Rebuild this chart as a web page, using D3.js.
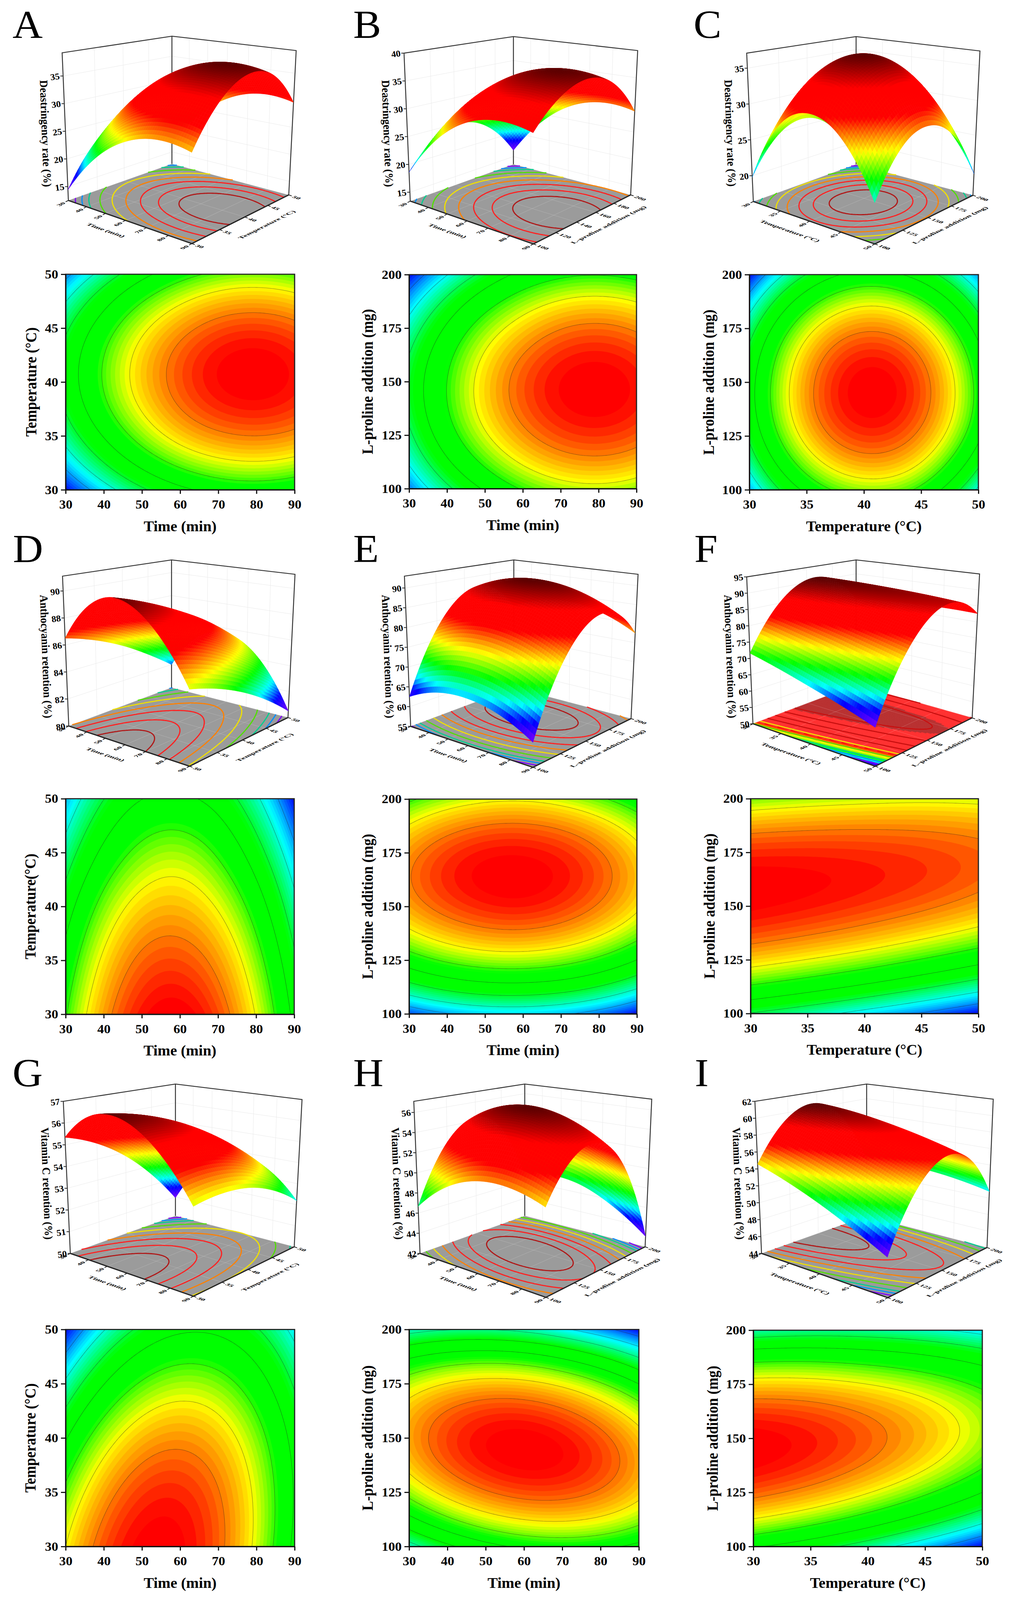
<!doctype html>
<html lang="en">

<head>
  <meta charset="utf-8">
  <title>Response surfaces</title>
  <style>
    html, body { margin: 0; padding: 0; background: #fff; overflow: hidden; }
    text { font-family: "Liberation Serif", serif; fill: #000; }
    .tick2d text { font-size: 34px; font-weight: bold; }
    .tick2d line, .tick2d path { stroke: #111; stroke-width: 3; }
    .title2d { font-size: 39px; font-weight: bold; }
    .letter { font-size: 107px; }
    .ztick { font-size: 24px; font-weight: bold; }
    .ztitle { font-size: 29px; font-weight: bold; }
    .floortick { font-size: 19px; font-weight: bold; }
    .floortitle { font-size: 21px; font-weight: bold; }
  </style>
</head>

<body>
  <div id="chart"></div>
  <script src="https://d3js.org/d3.v7.min.js"></script>
  <script>
    // factor levels the response values were read at
    const timeGrid = [30, 45, 60, 75, 90];
    const tempGrid = [30, 35, 40, 45, 50];
    const prolineGrid = [100, 125, 150, 175, 200];

    // axis ticks
    const timeTicks = [30, 40, 50, 60, 70, 80, 90];
    const tempTicks = [30, 35, 40, 45, 50];
    const prolineTicks = [100, 125, 150, 175, 200];
    const prolineTicksB = [100, 120, 140, 160, 180, 200];
    const zTicksA = [15, 20, 25, 30, 35];
    const zTicksB = [15, 20, 25, 30, 35, 40];
    const zTicksC = [20, 25, 30, 35];
    const zTicksD = [80, 82, 84, 86, 88, 90];
    const zTicksE = [55, 60, 65, 70, 75, 80, 85, 90];
    const zTicksF = [50, 55, 60, 65, 70, 75, 80, 85, 90, 95];
    const zTicksG = [50, 51, 52, 53, 54, 55, 56, 57];
    const zTicksH = [42, 44, 46, 48, 50, 52, 54, 56];
    const zTicksI = [44, 46, 48, 50, 52, 54, 56, 58, 60, 62];

    // responses, one row per y level (low to high), one column per x level (low to high)
    const zA = [
      [14.4, 21.3, 25.7, 27.7, 27.1],
      [21.7, 28.6, 33.1, 35.0, 34.5],
      [24.6, 31.5, 35.9, 37.9, 37.3],
      [23.0, 29.9, 34.3, 36.3, 35.7],
      [16.9, 23.8, 28.2, 30.2, 29.6]
    ];
    const zB = [
      [18.6, 25.4, 29.8, 31.7, 31.1],
      [23.5, 30.4, 34.7, 36.6, 36.0],
      [24.8, 31.6, 36.0, 37.9, 37.3],
      [22.3, 29.2, 33.5, 35.5, 34.9],
      [16.3, 23.1, 27.5, 29.4, 28.8]
    ];
    const zC = [
      [19.8, 27.6, 30.6, 28.9, 21.5],
      [24.9, 32.7, 35.7, 34.0, 27.5],
      [26.0, 33.8, 36.9, 35.2, 28.7],
      [23.4, 31.2, 34.2, 32.5, 26.0],
      [16.8, 24.6, 27.7, 25.9, 19.5]
    ];
    const zD = [
      [86.5, 89.4, 90.2, 88.7, 85.1],
      [85.8, 88.7, 89.4, 88.0, 84.4],
      [84.8, 87.7, 88.4, 87.0, 83.4],
      [83.5, 86.4, 87.2, 85.7, 82.1],
      [82.0, 84.9, 85.6, 84.2, 80.5]
    ];
    const zE = [
      [62.5, 65.6, 66.3, 64.7, 60.6],
      [78.0, 81.1, 81.8, 80.2, 76.1],
      [86.0, 89.0, 89.8, 88.1, 84.1],
      [86.4, 89.5, 90.2, 88.6, 84.5],
      [79.3, 82.4, 83.2, 81.5, 77.5]
    ];
    const zF = [
      [71.6, 69.3, 66.6, 63.7, 60.4],
      [84.9, 83.4, 81.6, 79.4, 76.9],
      [90.9, 90.2, 89.2, 87.9, 86.2],
      [89.6, 89.7, 89.5, 89.0, 88.1],
      [81.0, 81.9, 82.5, 82.8, 82.6]
    ];
    const zG = [
      [55.34, 56.58, 56.72, 55.76, 53.70],
      [54.75, 56.17, 56.49, 55.71, 53.82],
      [53.82, 55.42, 55.92, 55.32, 53.62],
      [52.55, 54.33, 55.01, 54.59, 53.06],
      [50.95, 52.91, 53.77, 53.53, 52.19]
    ];
    const zH = [
      [46.66, 49.24, 50.66, 50.91, 49.98],
      [52.38, 54.49, 55.45, 55.24, 53.84],
      [54.37, 56.01, 56.51, 55.83, 53.97],
      [52.63, 53.81, 53.84, 52.69, 50.37],
      [46.70, 47.30, 46.90, 45.40, 43.05]
    ];
    const zI = [
      [54.57, 53.49, 52.08, 50.32, 48.26],
      [59.39, 58.65, 57.56, 56.15, 54.40],
      [60.54, 60.14, 59.38, 58.29, 56.86],
      [58.01, 57.95, 57.50, 56.76, 55.67],
      [51.80, 52.07, 51.97, 51.56, 50.79]
    ];

    const deast = 'Deastringency rate (%)';
    const antho = 'Anthocyanin retention (%)';
    const vitc = 'Vitamin C retention (%)';
    const timeT = 'Time (min)', tempT = 'Temperature (\u00B0C)', proT = 'L-proline addition (mg)';

    // the panels: response, x/y domain and ticks, z axis range, contour spacing
    const panels = [
      { id: 'A', z: zA, xg: timeGrid, yg: tempGrid, xt: timeTicks, yt: tempTicks, zt: zTicksA, zd: [12.5, 39.2], peak: 38, step: 2.9, zTitle: deast, xTitle: timeT, yTitle: tempT },
      { id: 'B', z: zB, xg: timeGrid, yg: prolineGrid, xt: timeTicks, yt: prolineTicks, yt3: prolineTicksB, zt: zTicksB, zd: [13.4, 40], peak: 38, step: 2.8, zTitle: deast, xTitle: timeT, yTitle: proT },
      { id: 'C', z: zC, xg: tempGrid, yg: prolineGrid, xt: tempTicks, yt: prolineTicks, zt: zTicksC, zd: [16.4, 37.1], peak: 37, step: 2.5, zTitle: deast, xTitle: tempT, yTitle: proT },
      { id: 'D', z: zD, xg: timeGrid, yg: tempGrid, xt: timeTicks, yt: tempTicks, zt: zTicksD, zd: [80, 91.1], peak: 90.2, step: 1.2, zTitle: antho, xTitle: timeT, yTitle: 'Temperature(\u00B0C)' },
      { id: 'E', z: zE, xg: timeGrid, yg: prolineGrid, xt: timeTicks, yt: prolineTicks, zt: zTicksE, zd: [55, 93], peak: 91, step: 3.7, zTitle: antho, xTitle: timeT, yTitle: proT },
      { id: 'F', z: zF, xg: tempGrid, yg: prolineGrid, xt: tempTicks, yt: prolineTicks, zt: zTicksF, zd: [50, 95], peak: 91.3, step: 3.9, zTitle: antho, xTitle: tempT, yTitle: proT, filledFloor: true },
      { id: 'G', z: zG, xg: timeGrid, yg: tempGrid, xt: timeTicks, yt: tempTicks, zt: zTicksG, zd: [50, 57], peak: 56.8, step: 0.73, zTitle: vitc, xTitle: timeT, yTitle: tempT },
      { id: 'H', z: zH, xg: timeGrid, yg: prolineGrid, xt: timeTicks, yt: prolineTicks, zt: zTicksH, zd: [42, 57.1], peak: 56.6, step: 1.55, zTitle: vitc, xTitle: timeT, yTitle: proT },
      { id: 'I', z: zI, xg: tempGrid, yg: prolineGrid, xt: tempTicks, yt: prolineTicks, zt: zTicksI, zd: [44, 62], peak: 60.6, step: 1.55, zTitle: vitc, xTitle: tempT, yTitle: proT }
    ];

    // layout, in page pixels
    const letterPos = { A: [32, 103], B: [904, 103], C: [1775, 103], D: [33, 1523], E: [904, 1523], F: [1777, 1523], G: [32, 2943], H: [904, 2943], I: [1778, 2943] };
    const plotBox = {
      A: [168, 754, 743, 1327, 88], B: [1047, 1629, 744, 1324, 106], C: [1918, 2504, 744, 1327, 104],
      D: [168, 753, 2164, 2748, 90], E: [1047, 1630, 2165, 2747, 106], F: [1921, 2504, 2164, 2746, 105],
      G: [168, 754, 3602, 4190, 90], H: [1047, 1635, 3602, 4190, 106], I: [1928, 2514, 3604, 4190, 104]
    };
    const boxes = {
      A: { L: [175, 543], B: [440, 444], R: [739, 528], F: [491, 660], Lt: [159, 143], Bt: [440, 98], Rt: [758, 137], titleY: 362 },
      B: { L: [1050, 545], B: [1314, 445], R: [1614, 528], F: [1365, 661], Lt: [1034, 144], Bt: [1314, 99], Rt: [1632, 137], titleY: 362 },
      C: { L: [1928, 546], B: [2191, 445], R: [2490, 529], F: [2239, 661], Lt: [1911, 144], Bt: [2191, 99], Rt: [2508, 138], titleY: 361 },
      D: { L: [176, 1967], B: [439, 1863], R: [737, 1944], F: [485, 2076], Lt: [160, 1561], Bt: [439, 1517], Rt: [755, 1556], titleY: 1779 },
      E: { L: [1051, 1968], B: [1315, 1863], R: [1615, 1947], F: [1364, 2079], Lt: [1035, 1561], Bt: [1315, 1517], Rt: [1633, 1556], titleY: 1779 },
      F: { L: [1927, 1961], B: [2191, 1856], R: [2488, 1945], F: [2240, 2076], Lt: [1911, 1563], Bt: [2191, 1517], Rt: [2507, 1555], titleY: 1779 },
      G: { L: [180, 3396], B: [449, 3294], R: [753, 3378], F: [495, 3512], Lt: [162, 2984], Bt: [449, 2937], Rt: [773, 2979], titleY: 3207 },
      H: { L: [1075, 3396], B: [1343, 3294], R: [1651, 3378], F: [1397, 3515], Lt: [1059, 2984], Bt: [1343, 2937], Rt: [1668, 2978], titleY: 3207 },
      I: { L: [1949, 3396], B: [2218, 3295], R: [2526, 3380], F: [2272, 3516], Lt: [1932, 2984], Bt: [2218, 2937], Rt: [2542, 2978], titleY: 3207 }
    };

    // colours of the flat map and of the 3d surface
    const ramp2d = d3.scaleLinear()
      .domain([0, 0.22, 0.42, 0.6, 0.75, 0.87, 0.98])
      .range(['#0000ff', '#00ffff', '#00ff00', '#00ff00', '#ffff00', '#ff8000', '#ff0000'])
      .clamp(true);
    const ramp3d = d3.scaleLinear()
      .domain([0, 0.12, 0.22, 0.35, 0.5, 0.68])
      .range(['#8000ff', '#0000ff', '#00ffff', '#00ff00', '#ffff00', '#ff0000'])
      .clamp(true);
    const darkTop = d3.scaleLinear().domain([0.84, 1]).range(['#ff0000', '#5a0000']).clamp(true);

    const floorLevels = [0.09, 0.17, 0.25, 0.37, 0.49, 0.61, 0.72, 0.83, 0.92];
    const floorColors = ['#8000ff', '#0090ff', '#00d090', '#50e000', '#f0e000', '#ff8000', '#ff2020', '#ff2020', '#b01818'];

    const GRID = 121;   // samples per side for the contours
    const MESH = 60;    // cells per side for the 3d surface

    // the drawing is laid out at 2590x4335 and fills whatever window it gets
    const svg = d3.select('#chart').append('svg')
      .attr('viewBox', '0 0 2590 4335')
      .attr('preserveAspectRatio', 'none')
      .style('display', 'block')
      .style('width', '100vw').style('height', '100vh');

    // catmull-rom through the read values, ends continued so a parabola stays a parabola
    function spline(p, t) {
      const n = p.length - 1;
      const i = Math.min(Math.floor(t), n - 1), s = t - i;
      const at = k => k < 0 ? 3 * p[0] - 3 * p[1] + p[2] : k > n ? 3 * p[n] - 3 * p[n - 1] + p[n - 2] : p[k];
      const a = at(i - 1), b = at(i), c = at(i + 1), d = at(i + 2);
      return 0.5 * (2 * b + (c - a) * s + (2 * a - 5 * b + 4 * c - d) * s * s + (3 * b - a - 3 * c + d) * s * s * s);
    }

    function sampler(rows) {
      return (u, v) => spline(rows.map(r => spline(r, u * (r.length - 1))), v * (rows.length - 1));
    }

    function fineValues(surf) {
      const values = new Array(GRID * GRID);
      for (let j = 0; j < GRID; j++) {
        for (let i = 0; i < GRID; i++) values[j * GRID + i] = surf(i / (GRID - 1), j / (GRID - 1));
      }
      return values;
    }

    // contour rings as an open path: the stretches running along the grid border are left out
    function ringPath(multi, project) {
      const side = (p, q) => (p[0] <= 0.5 && q[0] <= 0.5) || (p[1] <= 0.5 && q[1] <= 0.5) ||
        (p[0] >= GRID - 0.5 && q[0] >= GRID - 0.5) || (p[1] >= GRID - 0.5 && q[1] >= GRID - 0.5);
      let d = '';
      multi.coordinates.forEach(poly => poly.forEach(ring => {
        let pen = false;
        for (let k = 1; k < ring.length; k++) {
          if (side(ring[k - 1], ring[k])) { pen = false; continue; }
          if (!pen) d += 'M' + project(ring[k - 1]).map(c => c.toFixed(1)).join(',');
          d += 'L' + project(ring[k]).map(c => c.toFixed(1)).join(',');
          pen = true;
        }
      }));
      return d;
    }

    function drawMap(p, values, range) {
      const [x0, x1, y0, y1, titleOff] = plotBox[p.id];
      const g = svg.append('g');
      const gx = d3.scaleLinear().domain([0.5, GRID - 0.5]).range([x0, x1]).clamp(true);
      const gy = d3.scaleLinear().domain([0.5, GRID - 0.5]).range([y1, y0]).clamp(true);
      const path = d3.geoPath(d3.geoTransform({ point(a, b) { this.stream.point(gx(a), gy(b)); } }));
      const tOf = z => (z - range[0]) / (range[1] - range[0]);

      // colour bands: six to each contour interval
      const band = p.step / 6;
      const bandLevels = d3.range(1, 90).map(k => p.peak - k * band).filter(v => v > range[0]).reverse();
      const bandFill = v => ramp2d(tOf(v + band / 2));
      g.append('rect').attr('x', x0).attr('y', y0).attr('width', x1 - x0).attr('height', y1 - y0).attr('fill', ramp2d(0));
      g.append('g').selectAll('path')
        .data(d3.contours().size([GRID, GRID]).thresholds(bandLevels)(values))
        .join('path').attr('d', path).attr('fill', d => bandFill(d.value));

      const lineLevels = d3.range(1, 14).map(k => p.peak - k * p.step).filter(v => v > range[0]);
      g.append('g').selectAll('path')
        .data(d3.contours().size([GRID, GRID]).thresholds(lineLevels)(values))
        .join('path')
        .attr('d', d => ringPath(d, c => [gx(c[0]), gy(c[1])]))
        .attr('fill', 'none').attr('stroke', '#222').attr('stroke-opacity', 0.5).attr('stroke-width', 1.1);

      // axes
      const sx = d3.scaleLinear().domain([p.xg[0], p.xg[4]]).range([x0, x1]);
      const sy = d3.scaleLinear().domain([p.yg[0], p.yg[4]]).range([y1, y0]);
      g.append('rect').attr('x', x0).attr('y', y0).attr('width', x1 - x0).attr('height', y1 - y0)
        .attr('fill', 'none').attr('stroke', '#222').attr('stroke-width', 3);
      g.append('g').attr('class', 'tick2d').attr('transform', `translate(0,${y1})`)
        .call(d3.axisBottom(sx).tickValues(p.xt).tickSize(11).tickPadding(16).tickSizeOuter(0));
      g.append('g').attr('class', 'tick2d').attr('transform', `translate(${x0},0)`)
        .call(d3.axisLeft(sy).tickValues(p.yt).tickSize(12).tickPadding(7).tickSizeOuter(0));
      g.selectAll('.tick2d text').attr('font-family', null);
      g.append('text').attr('class', 'title2d').attr('text-anchor', 'middle')
        .attr('x', (x0 + x1) / 2).attr('y', y1 + 112).text(p.xTitle);
      g.append('text').attr('class', 'title2d').attr('text-anchor', 'middle')
        .attr('transform', `translate(${x0 - titleOff + 13},${(y0 + y1) / 2}) rotate(-90)`).text(p.yTitle);
    }

    // unit square -> quad (L, F, R, B)
    function homography(q) {
      const [x0, y0] = q[0], [x1, y1] = q[1], [x2, y2] = q[2], [x3, y3] = q[3];
      const dx1 = x1 - x2, dx2 = x3 - x2, dx3 = x0 - x1 + x2 - x3;
      const dy1 = y1 - y2, dy2 = y3 - y2, dy3 = y0 - y1 + y2 - y3;
      const den = dx1 * dy2 - dx2 * dy1;
      const g = (dx3 * dy2 - dx2 * dy3) / den, h = (dx1 * dy3 - dx3 * dy1) / den;
      const a = x1 - x0 + g * x1, b = x3 - x0 + h * x3, d = y1 - y0 + g * y1, e = y3 - y0 + h * y3;
      return (u, v) => {
        const w = g * u + h * v + 1;
        return [(a * u + b * v + x0) / w, (d * u + e * v + y0) / w];
      };
    }

    const unit = (a, b) => {
      const dx = b[0] - a[0], dy = b[1] - a[1], n = Math.hypot(dx, dy);
      return [dx / n, dy / n];
    };
    const shift = (p, n, k) => [p[0] + n[0] * k, p[1] + n[1] * k];

    // text lying on the floor plane: baseline along b, letters growing along up
    const onFloor = (pos, b, up) => `matrix(${b[0]},${b[1]},${-up[0] * 0.72},${-up[1] * 0.72},${pos[0]},${pos[1]})`;

    function draw3d(p, surf, values, range) {
      const box = boxes[p.id];
      const { L, B, R, F, Lt, Bt, Rt } = box;
      const Ft = [Lt[0] + Rt[0] - Bt[0] + (F[0] - (L[0] + R[0] - B[0])) * 0.8,
                  Lt[1] + Rt[1] - Bt[1] + (F[1] - (L[1] + R[1] - B[1])) * 0.8];
      const floorH = homography([L, F, R, B]);
      const topH = homography([Lt, Ft, Rt, Bt]);
      const sx = d3.scaleLinear().domain([p.xg[0], p.xg[4]]).range([0, 1]);
      const sy = d3.scaleLinear().domain([p.yg[0], p.yg[4]]).range([0, 1]);
      const sz = d3.scaleLinear().domain(p.zd).range([0, 1]);
      const project = (u, v, w) => {
        const a = floorH(u, v), b = topH(u, v);
        return [a[0] + (b[0] - a[0]) * w, a[1] + (b[1] - a[1]) * w];
      };
      const line = d3.line();
      const tOf = z => (z - range[0]) / (range[1] - range[0]);
      const yt3 = p.yt3 || p.yt;
      const g = svg.append('g');

      // back walls: faint grid
      const wallGrid = g.append('g').attr('fill', 'none').attr('stroke', '#e9e9e9').attr('stroke-width', 1);
      p.zt.forEach(t => {
        const w = sz(t);
        wallGrid.append('path').attr('d', line([project(0, 0, w), project(0, 1, w), project(1, 1, w)]));
      });
      yt3.forEach(t => wallGrid.append('path').attr('d', line([project(0, sy(t), 0), project(0, sy(t), 1)])));
      p.xt.forEach(t => wallGrid.append('path').attr('d', line([project(sx(t), 1, 0), project(sx(t), 1, 1)])));

      // floor
      if (p.filledFloor) {
        const cells = [];
        const n = 70;
        for (let i = 0; i < n; i++) {
          for (let j = 0; j < n; j++) {
            const t = tOf(surf((i + 0.5) / n, (j + 0.5) / n));
            let c = ramp3d(t * 1.5);
            if (t * 1.5 >= 0.68) c = t > 0.9 ? '#b83030' : '#ff3030';
            cells.push({ c, pts: [floorH(i / n, j / n), floorH((i + 1) / n, j / n), floorH((i + 1) / n, (j + 1) / n), floorH(i / n, (j + 1) / n)] });
          }
        }
        g.append('g').selectAll('path').data(cells).join('path')
          .attr('d', d => line(d.pts) + 'Z').attr('fill', d => d.c).attr('stroke', d => d.c).attr('stroke-width', 0.8);
      } else {
        g.append('path').attr('d', line([L, F, R, B]) + 'Z').attr('fill', '#9b9b9b');
      }
      const floorGrid = g.append('g').attr('fill', 'none').attr('stroke', '#fff').attr('stroke-opacity', 0.18).attr('stroke-width', 1.2);
      p.xt.forEach(t => floorGrid.append('path').attr('d', line([floorH(sx(t), 0), floorH(sx(t), 1)])));
      yt3.forEach(t => floorGrid.append('path').attr('d', line([floorH(0, sy(t)), floorH(1, sy(t))])));

      // contours on the floor
      const levels = floorLevels.map(t => range[0] + t * (range[1] - range[0]));
      const gridToFloor = c => floorH(Math.min(1, Math.max(0, (c[0] - 0.5) / (GRID - 1))), Math.min(1, Math.max(0, (c[1] - 0.5) / (GRID - 1))));
      levels.forEach((lv, k) => {
        const multi = d3.contours().size([GRID, GRID]).contour(values, lv);
        g.append('path').attr('d', ringPath(multi, gridToFloor)).attr('fill', 'none')
          .attr('stroke', p.filledFloor ? (k >= 5 ? '#c81010' : floorColors[k]) : floorColors[k])
          .attr('stroke-width', 3);
      });

      // frame
      g.append('path').attr('d', line([L, Lt, Bt, Rt, R])).attr('fill', 'none').attr('stroke', '#333').attr('stroke-width', 2.4);
      g.append('path').attr('d', line([B, Bt])).attr('fill', 'none').attr('stroke', '#333').attr('stroke-width', 2.4);

      // surface, back corner first
      const flat = (a, b, c) => (b[0] - a[0]) * (c[1] - a[1]) - (b[1] - a[1]) * (c[0] - a[0]);
      const floorSign = Math.sign(flat(floorH(0, 0), floorH(1, 0), floorH(1, 1)));
      const cells = [];
      for (let i = 0; i < MESH; i++) {
        for (let j = MESH - 1; j >= 0; j--) {
          const us = [i / MESH, (i + 1) / MESH, (i + 1) / MESH, i / MESH];
          const vs = [j / MESH, j / MESH, (j + 1) / MESH, (j + 1) / MESH];
          const zs = us.map((u, k) => surf(u, vs[k]));
          const pts = us.map((u, k) => project(u, vs[k], sz(zs[k])));
          const t = tOf(d3.mean(zs));
          const front = Math.sign(flat(pts[0], pts[1], pts[2])) === floorSign;
          let c = ramp3d(t);
          if (front && t > 0.84) c = darkTop(t);
          cells.push({ pts, c });
        }
      }
      g.append('g').selectAll('path').data(cells).join('path')
        .attr('d', d => line(d.pts) + 'Z').attr('fill', d => d.c).attr('stroke', d => d.c).attr('stroke-width', 0.7);

      // z axis on the left edge
      p.zt.forEach(t => {
        const q = project(0, 0, sz(t));
        g.append('path').attr('d', line([q, [q[0] - 7, q[1]]])).attr('stroke', '#222').attr('stroke-width', 2);
        g.append('text').attr('class', 'ztick').attr('text-anchor', 'end').attr('dy', '0.35em')
          .attr('transform', `translate(${q[0] - 9},${q[1]}) rotate(-8)`).text(t);
      });
      g.append('text').attr('class', 'ztitle').attr('text-anchor', 'middle')
        .attr('transform', `translate(${Lt[0] - 52},${box.titleY}) rotate(88)`).text(p.zTitle);

      // floor axes
      g.append('path').attr('d', line([L, F, R])).attr('fill', 'none').attr('stroke', '#222').attr('stroke-width', 3.2);
      const alongX = unit(L, F), alongY = unit(F, R);
      const outX = unit(R, F), outY = alongX;
      const toL = unit(F, L);
      p.xt.forEach(t => {
        const q = floorH(sx(t), 0);
        g.append('path').attr('d', line([q, shift(q, outX, 8)])).attr('stroke', '#222').attr('stroke-width', 2);
        g.append('text').attr('class', 'floortick').attr('text-anchor', 'end').attr('dy', '0.35em')
          .attr('transform', onFloor(shift(q, outX, 12), alongY, toL)).text(t);
      });
      yt3.forEach(t => {
        const q = floorH(1, sy(t));
        g.append('path').attr('d', line([q, shift(q, outY, 8)])).attr('stroke', '#222').attr('stroke-width', 2);
        g.append('text').attr('class', 'floortick').attr('dy', '0.35em')
          .attr('transform', onFloor(shift(q, outY, 12), alongX, alongY)).text(t);
      });
      g.append('text').attr('class', 'floortitle').attr('text-anchor', 'middle').attr('dy', '0.35em')
        .attr('transform', onFloor(shift(floorH(0.5, 0), outX, 57), alongX, alongY)).text(p.xTitle);
      g.append('text').attr('class', 'floortitle').attr('text-anchor', 'middle').attr('dy', '0.35em')
        .attr('transform', onFloor(shift(floorH(1, 0.5), outY, 60), alongY, toL)).text(p.yTitle.replace('(\u00B0C)', ' (\u00B0C)').replace('  ', ' '));
    }

    panels.forEach(p => {
      const surf = sampler(p.z);
      const values = fineValues(surf);
      const range = d3.extent(values);
      drawMap(p, values, range);
      draw3d(p, surf, values, range);
      svg.append('text').attr('class', 'letter')
        .attr('x', letterPos[p.id][0]).attr('y', letterPos[p.id][1]).text(p.id);
    });
  </script>
</body>

</html>
